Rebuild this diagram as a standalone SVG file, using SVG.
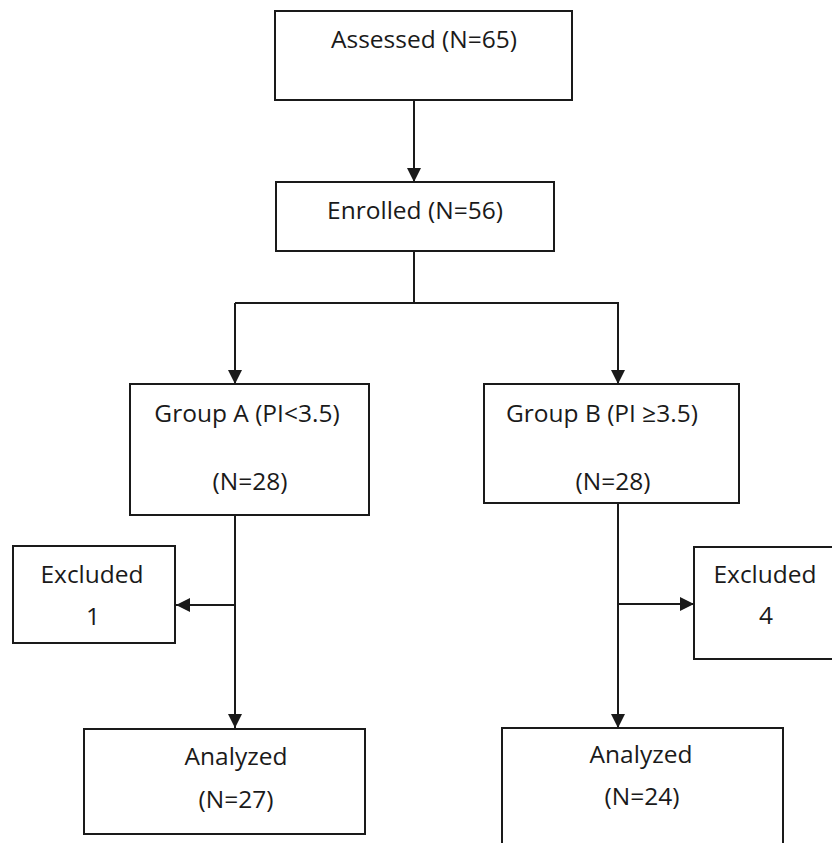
<svg xmlns="http://www.w3.org/2000/svg" width="832" height="843" viewBox="0 0 832 843">
<style>
.box{fill:#fff;stroke:#1a1a1a;stroke-width:2}
.t{font-family:"Open Sans","Noto Sans","DejaVu Sans",sans-serif;font-size:24.5px;fill:#1a1a1a;text-anchor:middle}
.c{fill:none;stroke:#1a1a1a;stroke-width:2}
</style>
<defs>
<marker id="ah" markerUnits="userSpaceOnUse" markerWidth="14" markerHeight="14" viewBox="0 0 14 14" refX="14" refY="7" orient="auto">
<path d="M0,0 L14,7 L0,14 Z" fill="#1a1a1a"/>
</marker>
</defs>
<rect width="832" height="843" fill="#fff"/>
<g id="connectors">
<line class="c" x1="414" y1="100" x2="414" y2="182" marker-end="url(#ah)"/>
<polyline class="c" points="414,251 414,303"/>
<polyline class="c" points="235,303 618,303 618,384" marker-end="url(#ah)"/>
<line class="c" x1="235" y1="303" x2="235" y2="384" marker-end="url(#ah)"/>
<line class="c" x1="235" y1="515" x2="235" y2="728" marker-end="url(#ah)"/>
<line class="c" x1="235" y1="605" x2="176" y2="605" marker-end="url(#ah)"/>
<line class="c" x1="618" y1="503" x2="618" y2="728" marker-end="url(#ah)"/>
<line class="c" x1="618" y1="604" x2="694" y2="604" marker-end="url(#ah)"/>
</g>
<g id="assessed">
<rect class="box" x="275" y="11" width="297" height="89"/>
<text class="t" x="424" y="48">Assessed (N=65)</text>
</g>
<g id="enrolled">
<rect class="box" x="276" y="182" width="278" height="69"/>
<text class="t" x="415" y="219">Enrolled (N=56)</text>
</g>
<g id="groupA">
<rect class="box" x="130" y="384" width="239" height="131"/>
<text class="t" x="247" y="422">Group A (PI&lt;3.5)</text>
<text class="t" x="250" y="490">(N=28)</text>
</g>
<g id="groupB">
<rect class="box" x="484" y="384" width="255" height="119"/>
<text class="t" x="602" y="422">Group B (PI ≥3.5)</text>
<text class="t" x="613" y="490">(N=28)</text>
</g>
<g id="excludedA">
<rect class="box" x="13" y="546" width="162" height="97"/>
<text class="t" x="92" y="583">Excluded</text>
<text class="t" x="93" y="625">1</text>
</g>
<g id="excludedB">
<rect class="box" x="694" y="547" width="150" height="112"/>
<text class="t" x="765" y="583">Excluded</text>
<text class="t" x="766" y="624">4</text>
</g>
<g id="analyzedA">
<rect class="box" x="84" y="729" width="281" height="105"/>
<text class="t" x="236" y="765">Analyzed</text>
<text class="t" x="236" y="808">(N=27)</text>
</g>
<g id="analyzedB">
<rect class="box" x="502" y="728" width="281" height="130"/>
<text class="t" x="641" y="763">Analyzed</text>
<text class="t" x="642" y="805">(N=24)</text>
</g>
</svg>
